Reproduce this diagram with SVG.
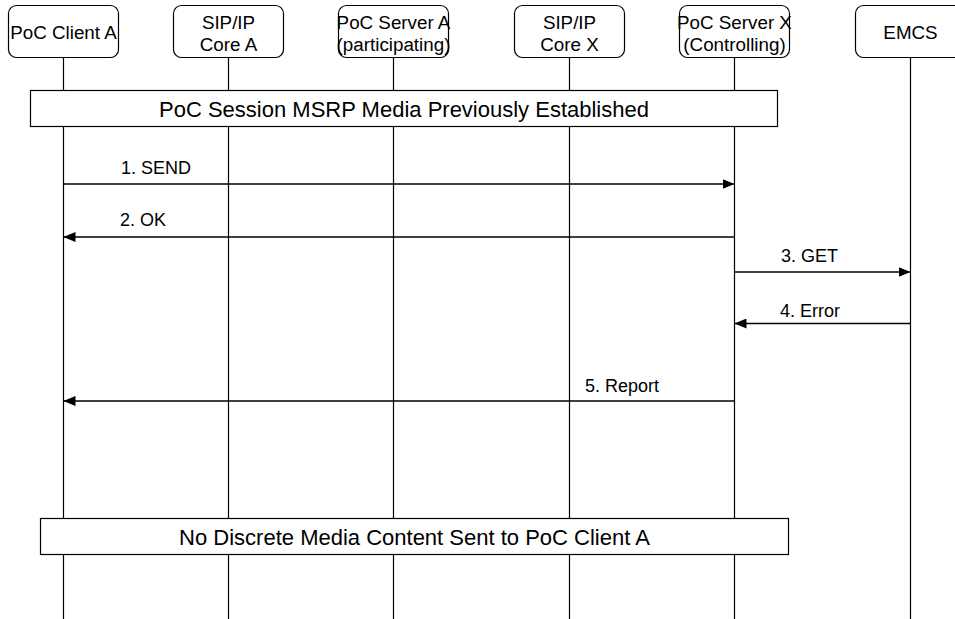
<svg xmlns="http://www.w3.org/2000/svg" width="955" height="619" viewBox="0 0 955 619">
<defs>
<style>
.box{fill:#fff;stroke:#000;stroke-width:1.2}
.life{stroke:#000;stroke-width:1.2}
.msg{stroke:#000;stroke-width:1.3;fill:none}
.t{font-family:"Liberation Sans",Arial,sans-serif;font-size:18px;fill:#000}
.n{font-size:18.8px}
.c{text-anchor:middle}
.b{font-size:22px}
</style>
<marker id="ah" markerWidth="12" markerHeight="10" refX="12" refY="5" orient="auto" markerUnits="userSpaceOnUse">
<path d="M0,0 L12,5 L0,10 Z" fill="#000"/>
</marker>
</defs>
<rect width="955" height="619" fill="#fff"/>
<g id="lifelines">
<line class="life" x1="63.5" y1="57" x2="63.5" y2="619"/>
<line class="life" x1="228.5" y1="57" x2="228.5" y2="619"/>
<line class="life" x1="393.5" y1="57" x2="393.5" y2="619"/>
<line class="life" x1="569.5" y1="57" x2="569.5" y2="619"/>
<line class="life" x1="734.5" y1="57" x2="734.5" y2="619"/>
<line class="life" x1="910.5" y1="57" x2="910.5" y2="619"/>
</g>
<g id="node-client-a">
<rect class="box" x="8.5" y="5.5" width="110" height="52" rx="8"/>
<text class="t n c" x="63.5" y="39">PoC Client A</text>
</g>
<g id="node-core-a">
<rect class="box" x="173.5" y="5.5" width="110" height="52" rx="8"/>
<text class="t n c" x="228.5" y="29">SIP/IP</text>
<text class="t n c" x="228.5" y="51">Core A</text>
</g>
<g id="node-server-a">
<rect class="box" x="338.5" y="5.5" width="110" height="52" rx="8"/>
<text class="t n c" x="393.5" y="29">PoC Server A</text>
<text class="t n c" x="393.5" y="51">(participating)</text>
</g>
<g id="node-core-x">
<rect class="box" x="514.5" y="5.5" width="110" height="52" rx="8"/>
<text class="t n c" x="569.5" y="29">SIP/IP</text>
<text class="t n c" x="569.5" y="51">Core X</text>
</g>
<g id="node-server-x">
<rect class="box" x="679.5" y="5.5" width="110" height="52" rx="8"/>
<text class="t n c" x="734.5" y="29">PoC Server X</text>
<text class="t n c" x="734.5" y="51">(Controlling)</text>
</g>
<g id="node-emcs">
<rect class="box" x="855.5" y="5.5" width="110" height="52" rx="8"/>
<text class="t n c" x="910.5" y="39">EMCS</text>
</g>
<g id="banner-1">
<rect class="box" x="30.5" y="90.5" width="747" height="36"/>
<text class="t c b" x="404" y="117">PoC Session MSRP Media Previously Established</text>
</g>
<g id="banner-2">
<rect class="box" x="40.5" y="518.5" width="748" height="36"/>
<text class="t c b" x="414.5" y="545">No Discrete Media Content Sent to PoC Client A</text>
</g>
<g id="connectors">
<line class="msg" x1="63.5" y1="184" x2="734.5" y2="184" marker-end="url(#ah)"/>
<text class="t" x="121" y="174">1. SEND</text>
<line class="msg" x1="734.5" y1="237" x2="63.5" y2="237" marker-end="url(#ah)"/>
<text class="t" x="120" y="226">2. OK</text>
<line class="msg" x1="734.5" y1="272" x2="910.5" y2="272" marker-end="url(#ah)"/>
<text class="t" x="781" y="262">3. GET</text>
<line class="msg" x1="910.5" y1="323.5" x2="734.5" y2="323.5" marker-end="url(#ah)"/>
<text class="t" x="780" y="316.5">4. Error</text>
<line class="msg" x1="734.5" y1="401" x2="63.5" y2="401" marker-end="url(#ah)"/>
<text class="t" x="585" y="392">5. Report</text>
</g>
</svg>
